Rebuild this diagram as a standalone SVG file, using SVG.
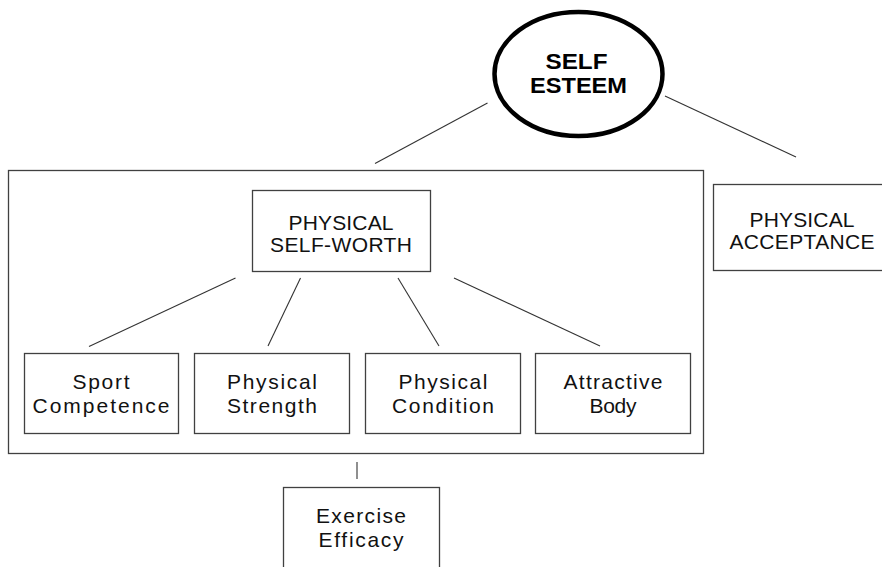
<svg xmlns="http://www.w3.org/2000/svg" width="882" height="567" viewBox="0 0 882 567">
<style>
  .box { fill: #ffffff; stroke: #404040; stroke-width: 1.3; }
  .frame { fill: none; stroke: #404040; stroke-width: 1.3; }
  .conn { stroke: #333333; stroke-width: 1.1; fill: none; }
  .t { font-family: "Liberation Sans", Arial, sans-serif; font-size: 21px; fill: #111111; text-anchor: middle; }
  .tb { font-family: "Liberation Sans", Arial, sans-serif; font-size: 22px; font-weight: bold; fill: #000000; text-anchor: middle; }
</style>
<rect width="882" height="567" fill="#ffffff"/>

<g id="group-frame">
  <rect class="frame" x="8.5" y="170.5" width="695" height="283"/>
</g>

<g id="connectors">
  <line class="conn" x1="487.5" y1="103" x2="375" y2="163.5"/>
  <line class="conn" x1="665" y1="96" x2="796" y2="157"/>
  <line class="conn" x1="235.5" y1="278" x2="89" y2="346.5"/>
  <line class="conn" x1="300.5" y1="278" x2="268" y2="346"/>
  <line class="conn" x1="398" y1="278" x2="439" y2="346"/>
  <line class="conn" x1="454" y1="278" x2="600" y2="346"/>
  <line class="conn" x1="357" y1="462" x2="357" y2="479"/>
</g>

<g id="self-esteem">
  <ellipse cx="578.5" cy="74" rx="84" ry="62" fill="#ffffff" stroke="#000000" stroke-width="4.5"/>
  <text class="tb" x="576.5" y="69" textLength="62" lengthAdjust="spacingAndGlyphs">SELF</text>
  <text class="tb" x="578.5" y="92.5" textLength="97" lengthAdjust="spacingAndGlyphs">ESTEEM</text>
</g>

<g id="physical-self-worth">
  <rect class="box" x="252.5" y="190.5" width="178" height="81"/>
  <text class="t" x="341" y="230" textLength="105" lengthAdjust="spacing">PHYSICAL</text>
  <text class="t" x="341" y="252" textLength="142" lengthAdjust="spacing">SELF-WORTH</text>
</g>

<g id="physical-acceptance">
  <rect class="box" x="713.5" y="184.5" width="178" height="86"/>
  <text class="t" x="802" y="226.5" textLength="105" lengthAdjust="spacing">PHYSICAL</text>
  <text class="t" x="802" y="248.5" textLength="145" lengthAdjust="spacing">ACCEPTANCE</text>
</g>

<g id="sport-competence">
  <rect class="box" x="24.5" y="353.5" width="154" height="80"/>
  <text class="t" x="101" y="389" textLength="57" lengthAdjust="spacing">Sport</text>
  <text class="t" x="101" y="413" textLength="137" lengthAdjust="spacing">Competence</text>
</g>

<g id="physical-strength">
  <rect class="box" x="194.5" y="353.5" width="155" height="80"/>
  <text class="t" x="272" y="389" textLength="90" lengthAdjust="spacing">Physical</text>
  <text class="t" x="272" y="413" textLength="90" lengthAdjust="spacing">Strength</text>
</g>

<g id="physical-condition">
  <rect class="box" x="365.5" y="353.5" width="155" height="80"/>
  <text class="t" x="443" y="389" textLength="89" lengthAdjust="spacing">Physical</text>
  <text class="t" x="443" y="413" textLength="102" lengthAdjust="spacing">Condition</text>
</g>

<g id="attractive-body">
  <rect class="box" x="535.5" y="353.5" width="155" height="80"/>
  <text class="t" x="613" y="389" textLength="99" lengthAdjust="spacing">Attractive</text>
  <text class="t" x="613" y="413" textLength="47" lengthAdjust="spacing">Body</text>
</g>

<g id="exercise-efficacy">
  <rect class="box" x="283.5" y="487.5" width="156" height="86"/>
  <text class="t" x="361" y="523" textLength="90" lengthAdjust="spacing">Exercise</text>
  <text class="t" x="361" y="547" textLength="85" lengthAdjust="spacing">Efficacy</text>
</g>
</svg>
